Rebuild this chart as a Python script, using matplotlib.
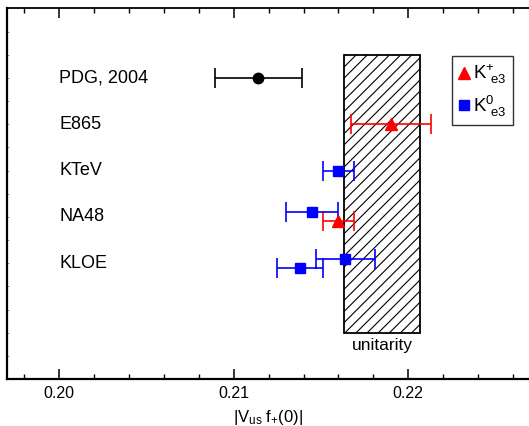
import matplotlib
matplotlib.use("Agg")
import matplotlib.pyplot as plt
from matplotlib.patches import Rectangle
from matplotlib.ticker import MultipleLocator, FormatStrFormatter
from matplotlib.lines import Line2D

plt.rcParams['font.family'] = ['Liberation Sans', 'DejaVu Sans']
plt.rcParams['mathtext.fontset'] = 'custom'
plt.rcParams['mathtext.rm'] = 'Liberation Sans'
plt.rcParams['mathtext.it'] = 'Liberation Sans'
plt.rcParams['hatch.linewidth'] = 0.8

# ---- data ----
experiments = ["PDG, 2004", "E865", "KTeV", "NA48", "KLOE"]
row_pos = [5, 4, 3, 2, 1]

# PDG 2004 average
pdg_x = [0.2114]
pdg_err = [0.0025]
pdg_y = [5.0]

# K+e3 (triangles)
kp_x = [0.2190, 0.2160]
kp_err = [0.0023, 0.0009]
kp_y = [4.0, 1.9]

# K0e3 (squares)
k0_x = [0.2160, 0.2145, 0.2164, 0.2138]
k0_err = [0.0009, 0.0015, 0.0017, 0.0013]
k0_y = [3.0, 2.1, 1.1, 0.9]

# unitarity band
unit_lo, unit_hi = 0.2163, 0.2207
unit_ylo, unit_yhi = -0.5, 5.5

W, H = 529, 426
fig = plt.figure(figsize=(W/100, H/100), dpi=100)
ax = fig.add_axes([6.7/W, 1 - 379/H, 1 - 6.7/W, (379 - 8.4)/H])
ax.set_xlim(0.19698, 0.22693)
ax.set_ylim(-1.5, 6.5)

# unitarity box
ax.add_patch(Rectangle((unit_lo, unit_ylo), unit_hi - unit_lo, unit_yhi - unit_ylo,
                       facecolor='white', edgecolor='black', hatch='///', linewidth=1.3, zorder=1))
ax.text((unit_lo + unit_hi) / 2, -0.78, "unitarity", ha='center', va='center', fontsize=12.5)

ekw = dict(capsize=7.5, elinewidth=1.2, capthick=1.2, linestyle='none', zorder=3)
ax.errorbar(pdg_x, pdg_y, xerr=pdg_err, fmt='o', color='black', markersize=7.5, **ekw)
ax.errorbar(kp_x, kp_y, xerr=kp_err, fmt='^', color='red', markersize=8, **ekw)
ax.errorbar(k0_x, k0_y, xerr=k0_err, fmt='s', color='blue', markersize=7.5, **ekw)

for name, y in zip(experiments, row_pos):
    ax.text(0.2000, y, name, ha='left', va='center', fontsize=13)

# ticks
ax.xaxis.set_major_locator(MultipleLocator(0.01))
ax.xaxis.set_minor_locator(MultipleLocator(0.002))
ax.xaxis.set_major_formatter(FormatStrFormatter('%.2f'))
ax.tick_params(axis='x', which='major', direction='in', length=7, width=1.1,
               top=True, bottom=True, labelsize=11.5, pad=5)
ax.tick_params(axis='x', which='minor', direction='in', length=3.5, width=1.0,
               top=True, bottom=True)
ax.yaxis.set_major_locator(MultipleLocator(0.5))
ax.tick_params(axis='y', which='major', direction='in', length=1.5, width=0.6,
               labelleft=False, color='#888888')
ax.spines['right'].set_visible(False)
for s in ['left', 'bottom']:
    ax.spines[s].set_linewidth(1.6)
ax.spines['top'].set_linewidth(1.3)

ax.set_xlabel(r"|V$_{\mathrm{us}}$ f$_{+}$(0)|", fontsize=12, labelpad=5)

handles = [Line2D([], [], marker='^', color='red', linestyle='none', markersize=8),
           Line2D([], [], marker='s', color='blue', linestyle='none', markersize=6.5)]
labels = [r"K$^{+}_{\;\,\mathrm{e3}}$", r"K$^{0}_{\;\,\mathrm{e3}}$"]
leg = fig.legend(handles, labels, loc='upper left', bbox_to_anchor=(452/W, 1 - 56/H),
                 fontsize=13.5, frameon=True, fancybox=False, handlelength=0.6,
                 handletextpad=0.15, borderpad=0.35, labelspacing=0.4, borderaxespad=0)
leg.get_frame().set_edgecolor('black')
leg.get_frame().set_linewidth(1.0)

fig.savefig("out.png", dpi=100)
